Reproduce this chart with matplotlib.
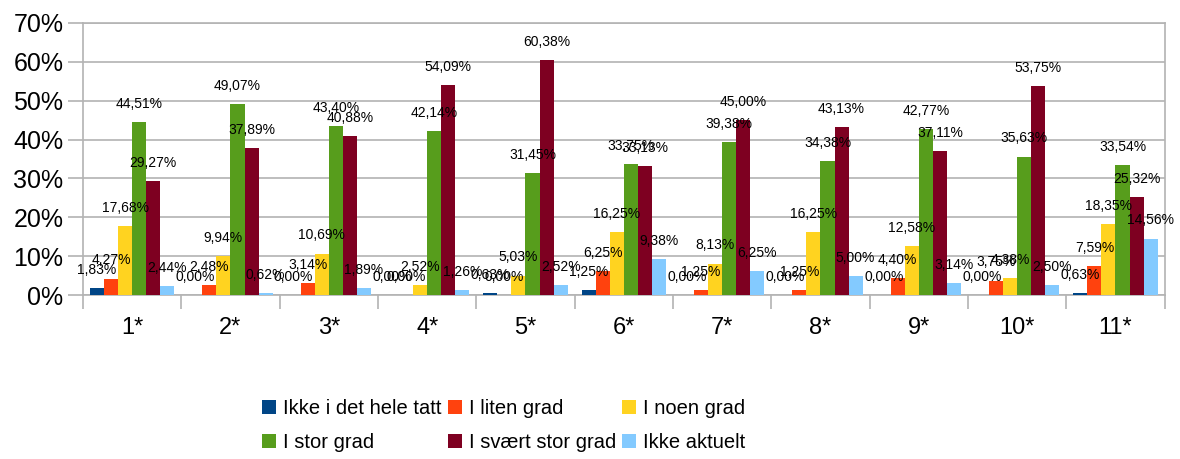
import matplotlib.pyplot as plt
import numpy as np

plt.rcParams['font.family'] = ['Liberation Sans', 'DejaVu Sans']

# categories and series
categories = ['1*', '2*', '3*', '4*', '5*', '6*', '7*', '8*', '9*', '10*', '11*']
series_names = ['Ikke i det hele tatt', 'I liten grad', 'I noen grad',
                'I stor grad', 'I svært stor grad', 'Ikke aktuelt']
ikke_i_det_hele_tatt = [1.83, 0.00, 0.00, 0.00, 0.63, 1.25, 0.00, 0.00, 0.00, 0.00, 0.63]
i_liten_grad = [4.27, 2.48, 3.14, 0.00, 0.00, 6.25, 1.25, 1.25, 4.40, 3.75, 7.59]
i_noen_grad = [17.68, 9.94, 10.69, 2.52, 5.03, 16.25, 8.13, 16.25, 12.58, 4.38, 18.35]
i_stor_grad = [44.51, 49.07, 43.40, 42.14, 31.45, 33.75, 39.38, 34.38, 42.77, 35.63, 33.54]
i_svaert_stor_grad = [29.27, 37.89, 40.88, 54.09, 60.38, 33.13, 45.00, 43.13, 37.11, 53.75, 25.32]
ikke_aktuelt = [2.44, 0.62, 1.89, 1.26, 2.52, 9.38, 6.25, 5.00, 3.14, 2.50, 14.56]

colors = ['#004586', '#ff420e', '#ffd320', '#579d1c', '#7e0021', '#83caff']
all_series = [ikke_i_det_hele_tatt, i_liten_grad, i_noen_grad,
              i_stor_grad, i_svaert_stor_grad, ikke_aktuelt]

fig, ax = plt.subplots(figsize=(11.8, 4.59), dpi=100)
fig.subplots_adjust(left=0.0703, right=0.987, top=0.950, bottom=0.357)

x = np.arange(len(categories))
w = 1 / 7
handles = []
for i, vals in enumerate(all_series):
    pos = x + (i - 2.5) * w
    b = ax.bar(pos, vals, width=w, color=colors[i], label=series_names[i], zorder=3)
    handles.append(b)
    for px, v in zip(pos, vals):
        ax.annotate(f"{v:.2f}".replace('.', ',') + '%', (px, v), xytext=(0, 8),
                    textcoords='offset points', ha='center', va='bottom',
                    fontsize=10, zorder=4)

ax.set_xlim(-0.5, len(categories) - 0.5)
ax.set_ylim(0, 70)
ax.set_yticks(range(0, 71, 10))
ax.set_yticklabels([f"{t}%" for t in range(0, 71, 10)], fontsize=18)
ax.set_xticks(x)
ax.set_xticklabels(categories, fontsize=17)
ax.set_xticks(np.arange(-0.5, len(categories)), minor=True)
ax.tick_params(axis='x', which='major', length=0, pad=16)
ax.tick_params(axis='x', which='minor', length=10, color='#b3b3b3', width=1.2)
ax.tick_params(axis='y', length=11, color='#b3b3b3', width=1.2, pad=3)
ax.grid(axis='y', color='#b3b3b3', linewidth=1.2, zorder=0)
for s in ax.spines.values():
    s.set_color('#b3b3b3')
    s.set_linewidth(1.2)

order = [0, 3, 1, 4, 2, 5]
fig.legend([handles[i] for i in order], [series_names[i] for i in order],
           ncol=3, loc='upper left', bbox_to_anchor=(0.222, 0.131),
           frameon=False, fontsize=14.5, handlelength=0.7, handleheight=0.7,
           handletextpad=0.35, columnspacing=0.3, labelspacing=0.75,
           borderpad=0, borderaxespad=0)

fig.savefig('out.png')
